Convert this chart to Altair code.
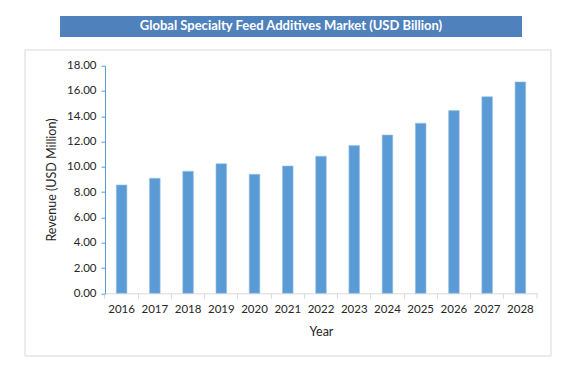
import altair as alt
import pandas as pd

years = ["2016", "2017", "2018", "2019", "2020", "2021", "2022",
         "2023", "2024", "2025", "2026", "2027", "2028"]
revenue = [8.57, 9.10, 9.65, 10.25, 9.41, 10.07, 10.84,
           11.68, 12.52, 13.45, 14.45, 15.55, 16.72]
title_text = "Global Specialty Feed Additives Market (USD Billion)"
y_title = "Revenue (USD Million)"
x_title = "Year"

df = pd.DataFrame({"Year": years, "Revenue": revenue})

W = 432
H = 227.6
FONT = "Lato"
BLUE = "#5B9BD5"

one = pd.DataFrame({"k": [0]})

box = alt.Chart(one).mark_rect(fillOpacity=0, stroke="#D9D9D9", strokeWidth=1).encode(
    x=alt.value(-80), x2=alt.value(446), y=alt.value(-15.7), y2=alt.value(290.3)
)
band = alt.Chart(one).mark_rect(color="#4F81BD").encode(
    x=alt.value(-45), x2=alt.value(417), y=alt.value(-49.7), y2=alt.value(-28.7)
)
title = alt.Chart(one).mark_text(
    font=FONT, fontSize=13, fontWeight="bold", color="white", align="center", baseline="middle"
).encode(x=alt.value(186), y=alt.value(-39.2), text=alt.value(title_text))

bars = alt.Chart(df).mark_bar(
    color=BLUE, width=alt.RelativeBandSize(0.32), stroke="#9DC3E6", strokeWidth=0.6
).encode(
    x=alt.X("Year:O", sort=years,
            scale=alt.Scale(paddingInner=0, paddingOuter=0),
            axis=alt.Axis(title=x_title, labelAngle=0, bandPosition=0, tickSize=5,
                          tickColor="#D9D9D9", domainColor="#D9D9D9", labelPadding=5,
                          titlePadding=11)),
    y=alt.Y("Revenue:Q",
            scale=alt.Scale(domain=[0, 18], nice=False),
            axis=alt.Axis(title=y_title, format=".2f", values=list(range(0, 19, 2)),
                          grid=False, tickSize=4, tickColor=BLUE, domainColor=BLUE,
                          labelPadding=5, titlePadding=8)),
)

end_tick = alt.Chart(one).mark_rule(color="#D9D9D9").encode(
    x=alt.value(W), y=alt.value(H), y2=alt.value(H + 5)
)

chart = alt.layer(box, band, title, bars, end_tick).properties(
    width=W, height=H,
    autosize=alt.AutoSizeParams(type="none"),
    padding={"left": 105, "top": 65.7, "right": 39, "bottom": 83.7},
    background="white",
).configure_view(stroke=None).configure_axis(
    labelFont=FONT, labelFontSize=11.5, labelColor="#262626",
    titleFont=FONT, titleFontSize=12.5, titleFontWeight="normal", titleColor="#262626",
)

chart.save("out.html", embed_options={"renderer": "svg", "actions": False})
